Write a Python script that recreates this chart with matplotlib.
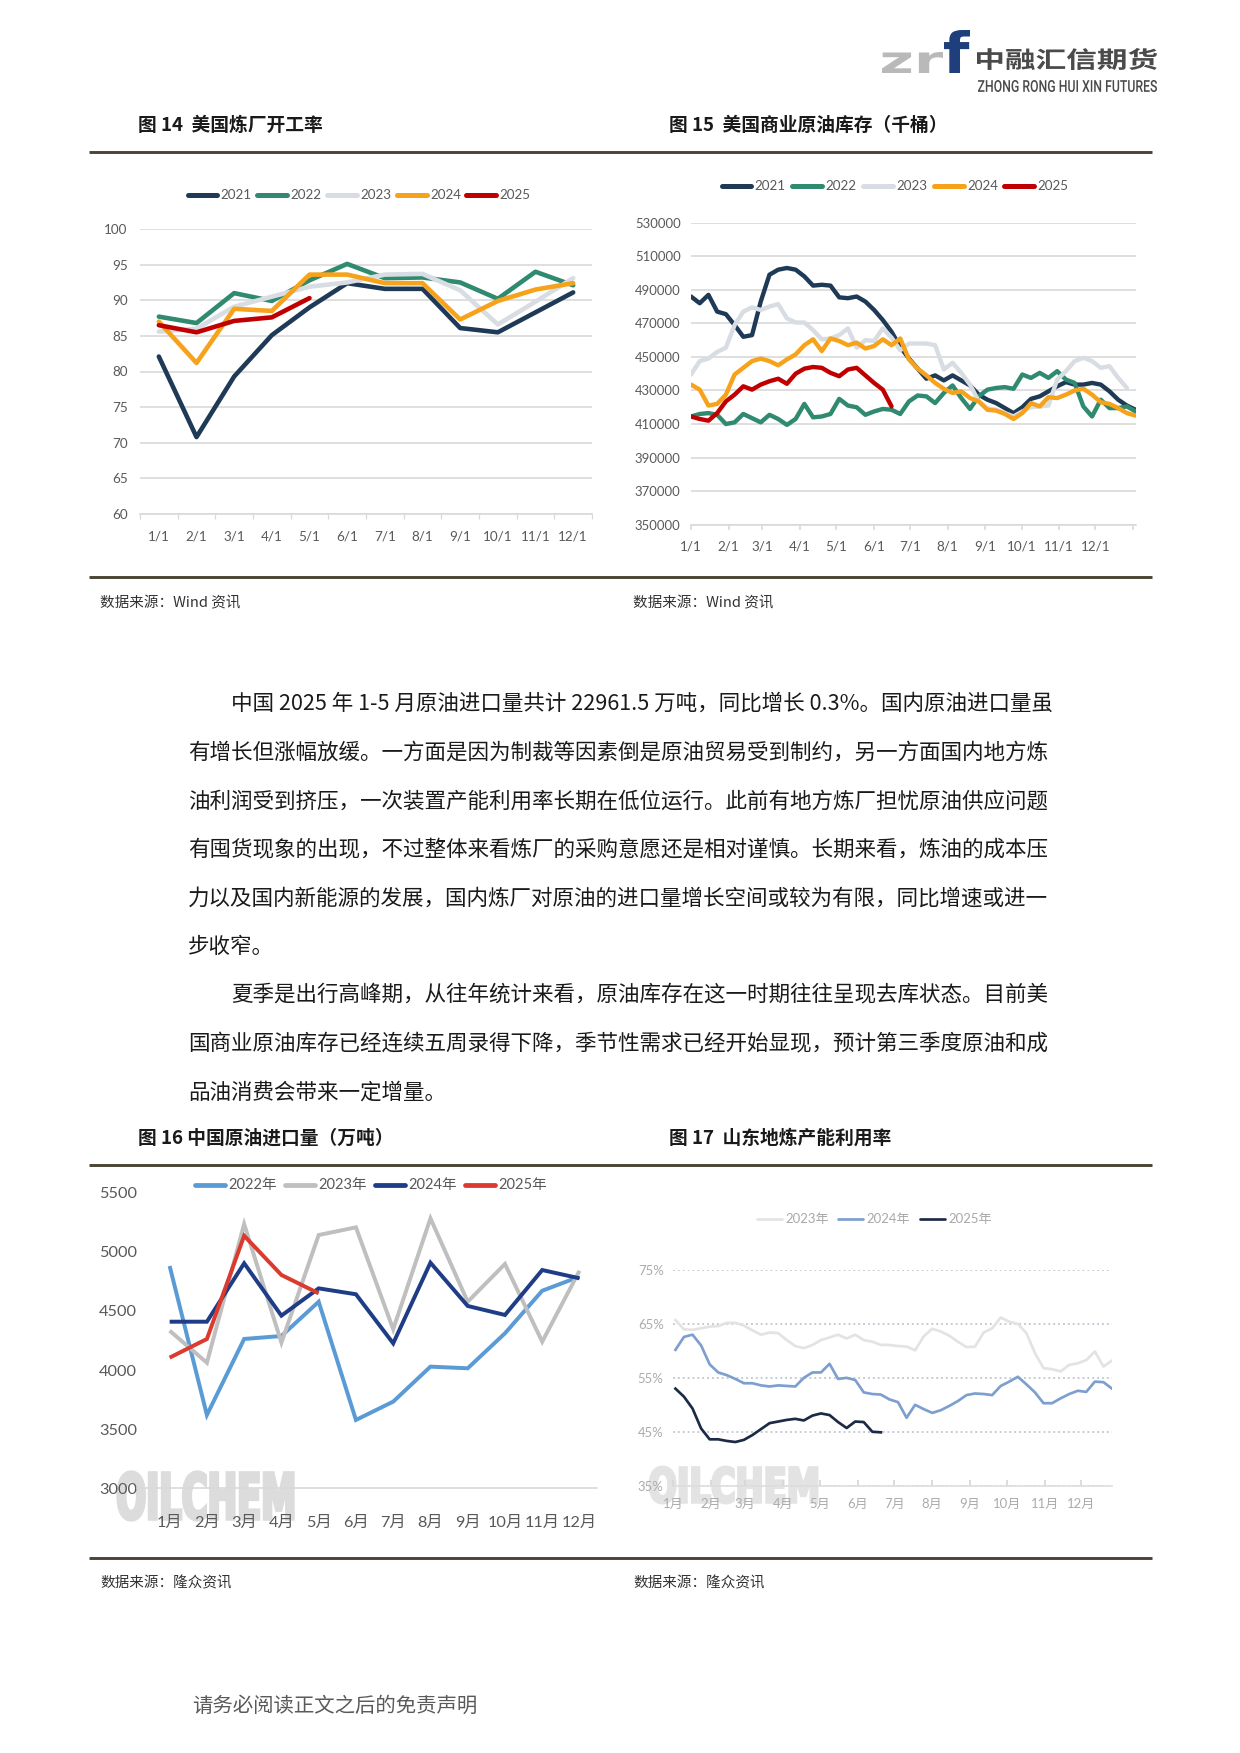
import numpy as np
import matplotlib
matplotlib.use('Agg')
import matplotlib.pyplot as plt
from matplotlib.textpath import TextPath
from matplotlib.patches import PathPatch
from matplotlib.font_manager import FontProperties
from matplotlib.transforms import Affine2D

W, H, DPI = 1240, 1753, 150
CJK = 'Noto Sans CJK SC'
NUM = 'Lato'
plt.rcParams['font.family'] = [NUM, CJK, 'DejaVu Sans']

# ---------------- data ----------------
# fig 14: US refinery utilisation (%), monthly
months14 = ['1/1', '2/1', '3/1', '4/1', '5/1', '6/1', '7/1', '8/1', '9/1', '10/1', '11/1', '12/1']
years14 = ['2021', '2022', '2023', '2024', '2025']
rate_2021 = [82.1, 70.8, 79.3, 85.1, 89.0, 92.4, 91.6, 91.6, 86.1, 85.5, 88.3, 91.1]
rate_2022 = [87.7, 86.8, 91.0, 89.9, 92.8, 95.1, 93.1, 93.2, 92.5, 90.2, 94.0, 92.1]
rate_2023 = [85.6, 86.0, 89.1, 90.5, 91.9, 92.5, 93.6, 93.7, 91.4, 86.6, 89.8, 93.1]
rate_2024 = [87.0, 81.2, 88.8, 88.5, 93.6, 93.6, 92.4, 92.4, 87.3, 89.9, 91.5, 92.4]
rate_2025 = [86.5, 85.5, 87.1, 87.6, 90.3]

# fig 15: US commercial crude stocks (thousand bbl), weekly
inv_2021 = [486000, 482000, 487000, 477000, 475500, 469000, 462000, 463000, 483000, 499000,
            502000, 503000, 502000, 498000, 492500, 493000, 492500, 485500, 485000, 486000,
            483000, 478000, 472000, 465000, 456000, 449000, 443000, 437000, 439000, 436000,
            439000, 436000, 433000, 427500, 424500, 422500, 419500, 416500, 420000, 425000,
            426500, 429500, 432500, 435000, 433500, 433500, 434500, 433500, 429500, 424500,
            421000, 418500]
inv_2022 = [414500, 416000, 416500, 415500, 410000, 411000, 416000, 413500, 411000, 415500,
            413000, 409500, 413000, 422000, 414000, 414500, 416000, 425000, 421000, 420000,
            415500, 417500, 419000, 418500, 416000, 423500, 427000, 426500, 422500, 428500,
            433000, 425500, 419000, 426500, 430500, 431500, 432000, 431000, 439500, 437500,
            440500, 437500, 441500, 436500, 434500, 420500, 414500, 424500, 419500, 419500,
            420500, 417500]
inv_2023 = [439500, 447500, 449000, 453000, 455500, 469000, 477000, 479500, 478000, 480000,
            481500, 473000, 470500, 470500, 466000, 460500, 461000, 463000, 467000, 455500,
            460000, 459500, 467000, 461500, 454000, 458000, 458000, 458000, 457000, 442500,
            446500, 440500, 433500, 423500, 419500, 418500, 416500, 414500, 417500, 420000,
            420500, 421000, 436500, 441500, 447500, 449500, 447500, 443500, 444500, 437500,
            431500]
inv_2024 = [433500, 430500, 421000, 422000, 427500, 439500, 443500, 447500, 449000, 447500,
            445000, 448500, 451500, 457000, 460500, 453500, 461000, 459500, 457000, 458500,
            455000, 456500, 460500, 457000, 461000, 448500, 443000, 439000, 434500, 431000,
            428500, 429500, 425500, 423500, 418500, 418000, 416000, 413000, 416500, 422500,
            420500, 426000, 425500, 427500, 430000, 431000, 427500, 423000, 422000, 419500,
            416500, 415000]
inv_2025 = [414500, 413000, 412000, 416500, 423500, 427500, 432500, 430500, 433500, 435500,
            437000, 434000, 440000, 443000, 444000, 443500, 440500, 438500, 442500, 443500,
            439000, 434500, 430500, 420500]

# fig 16: China crude imports (10k t), monthly
months_cn = ['1月', '2月', '3月', '4月', '5月', '6月', '7月', '8月', '9月', '10月', '11月', '12月']
imp_2022 = [4880, 3620, 4263, 4288, 4578, 3578, 3733, 4029, 4015, 4311, 4671, 4790]
imp_2023 = [4333, 4062, 5235, 4232, 5142, 5207, 4345, 5283, 4578, 4897, 4240, 4840]
imp_2024 = [4409, 4409, 4903, 4460, 4691, 4641, 4226, 4908, 4542, 4466, 4846, 4776]
imp_2025 = [4105, 4263, 5136, 4804, 4649]

# fig 17: Shandong independent refinery utilisation (%), weekly
util_2023 = [65.7, 64.0, 63.9, 64.2, 64.5, 64.6, 65.2, 65.2, 64.7, 63.8, 63.0, 63.4, 63.3,
             62.0, 60.9, 60.5, 61.1, 62.0, 62.5, 63.0, 62.3, 63.0, 62.0, 61.7, 61.1, 61.1,
             60.9, 60.8, 60.1, 62.7, 64.1, 63.6, 62.8, 61.7, 60.7, 60.8, 63.4, 64.2, 66.2,
             65.4, 65.0, 63.3, 59.6, 56.8, 56.6, 56.2, 57.4, 57.7, 58.3, 59.9, 57.1, 58.2]
util_2024 = [60.2, 62.6, 63.0, 61.0, 57.5, 56.0, 55.5, 54.8, 54.0, 54.0, 53.6, 53.4, 53.6,
             53.5, 53.4, 55.0, 56.0, 56.0, 57.6, 54.8, 55.0, 54.6, 52.3, 52.0, 51.9, 51.0,
             50.5, 47.6, 50.0, 49.2, 48.5, 49.0, 49.8, 50.7, 51.8, 52.1, 52.0, 51.8, 53.5,
             54.3, 55.2, 53.8, 52.3, 50.3, 50.3, 51.2, 52.0, 52.6, 52.4, 54.3, 54.2, 53.0]
util_2025 = [53.0, 51.5, 49.3, 45.6, 43.6, 43.6, 43.3, 43.1, 43.5, 44.4, 45.5, 46.6, 46.9,
             47.2, 47.4, 47.1, 48.0, 48.4, 48.1, 46.8, 45.7, 46.9, 46.8, 45.0, 44.9]

month_start_days = [0, 31, 59, 90, 120, 151, 181, 212, 243, 273, 304, 334]

body_lines = [
    '中国 2025 年 1-5 月原油进口量共计 22961.5 万吨，同比增长 0.3%。国内原油进口量虽',
    '有增长但涨幅放缓。一方面是因为制裁等因素倒是原油贸易受到制约，另一方面国内地方炼',
    '油利润受到挤压，一次装置产能利用率长期在低位运行。此前有地方炼厂担忧原油供应问题',
    '有囤货现象的出现，不过整体来看炼厂的采购意愿还是相对谨慎。长期来看，炼油的成本压',
    '力以及国内新能源的发展，国内炼厂对原油的进口量增长空间或较为有限，同比增速或进一',
    '步收窄。',
    '夏季是出行高峰期，从往年统计来看，原油库存在这一时期往往呈现去库状态。目前美',
    '国商业原油库存已经连续五周录得下降，季节性需求已经开始显现，预计第三季度原油和成',
    '品油消费会带来一定增量。',
]
indented = [True, False, False, False, False, False, True, False, False]

# ---------------- page ----------------
fig = plt.figure(figsize=(W / DPI, H / DPI), dpi=DPI)
fig.patch.set_facecolor('white')
bg = fig.add_axes([0, 0, 1, 1])
bg.set_xlim(0, W)
bg.set_ylim(H, 0)
bg.axis('off')


def box(x0, y0, x1, y1):
    return [x0 / W, 1 - y1 / H, (x1 - x0) / W, (y1 - y0) / H]


def fit_text(s, x0, y0, x1, y1, color, family, weight='normal', stroke=0.0):
    tp = TextPath((0, 0), s, size=100, prop=FontProperties(family=family, weight=weight))
    e = tp.get_extents()
    tr = Affine2D().translate(-e.x0, -e.y0).scale((x1 - x0) / e.width, -(y1 - y0) / e.height)
    tr = tr.translate(x0, y1)
    bg.add_patch(PathPatch(tr.transform_path(tp), fc=color,
                           ec=color if stroke else 'none', lw=stroke))


def legend_row(items, y, fs, lw, tcolor, gap=3):
    for x0, x1, color, label in items:
        bg.plot([x0, x1], [y, y], color=color, lw=lw, solid_capstyle='round')
        bg.text(x1 + gap, y, label, fontsize=fs, color=tcolor, va='center', ha='left')


SEP = '#4a4434'

# logo
fit_text('zr', 882, 52, 943, 73, '#b9b9b9', 'DejaVu Sans', 'bold')
fit_text('f', 944, 30, 970, 73, '#1f3e7c', 'DejaVu Sans', 'bold')
fit_text('中融汇信期货', 977, 48, 1157, 70, '#4a4a4a', CJK, 'bold')
fit_text('ZHONG RONG HUI XIN FUTURES', 978, 80, 1157, 92, '#4a4a4a', 'Roboto', 'medium')

# titles, separators, sources
for tx, ty, t in [(138, 125, '图 14  美国炼厂开工率'), (669, 125, '图 15  美国商业原油库存（千桶）'),
                  (138, 1138, '图 16 中国原油进口量（万吨）'), (669, 1138, '图 17  山东地炼产能利用率')]:
    bg.text(tx, ty, t, fontsize=9, fontweight='bold', color='#1a1a1a', va='center', ha='left',
            family=[CJK])
for yy in [151.5, 577, 1165, 1557.5]:
    bg.plot([89, 1152], [yy, yy], color=SEP, lw=1.4, solid_capstyle='butt')
for sx, sy, t in [(100, 603, '数据来源：Wind 资讯'), (633, 603, '数据来源：Wind 资讯'),
                  (100, 1583, '数据来源：隆众资讯'), (633, 1583, '数据来源：隆众资讯')]:
    bg.text(sx, sy, t, fontsize=7, color='#333333', va='center', ha='left', family=[CJK])

# body text
for i, line in enumerate(body_lines):
    bg.text(231 if indented[i] else 188, 704 + i * 48.6, line, fontsize=10.35, color='#1a1a1a',
            va='center', ha='left', family=[CJK])

bg.text(192, 1706, '请务必阅读正文之后的免责声明', fontsize=9.8, color='#5a5a5a', va='center',
        ha='left', family=[CJK])

# watermarks
fit_text('OILCHEM', 118, 1472, 293, 1520, '#dcdcdc', 'DejaVu Sans', 'bold', stroke=1.6)
fit_text('OILCHEM', 650, 1467, 817, 1503, '#e3e3e3', 'DejaVu Sans', 'bold', stroke=1.4)

GRID = '#d9d9d9'
TXT = '#595959'

# ---------------- fig 14 ----------------
c14 = ['#1f3a56', '#2f8a70', '#d8dde3', '#f7a21b', '#c00000']
legend_row([(188, 217, c14[0], years14[0]), (257, 287, c14[1], years14[1]),
            (327, 357, c14[2], years14[2]), (397, 427, c14[3], years14[3]),
            (466, 496, c14[4], years14[4])], 195, 6.4, 2.4, TXT)
ax = fig.add_axes(box(140, 229, 592, 514))
ax.set_facecolor('none')
xc = np.arange(12)
for vals, col in zip([rate_2021, rate_2022, rate_2023, rate_2024, rate_2025], c14):
    ax.plot(xc[:len(vals)], vals, color=col, lw=2.2, solid_capstyle='round', solid_joinstyle='round')
ax.set_xlim(-0.5, 11.5)
ax.set_ylim(60, 100)
ax.set_yticks(range(60, 101, 5))
ax.set_xticks(xc)
ax.set_xticklabels(months14)
ax.set_xticks(np.arange(-0.5, 12, 1), minor=True)
ax.grid(axis='y', color=GRID, lw=0.8)
ax.set_axisbelow(True)
for s in ['top', 'right', 'left']:
    ax.spines[s].set_visible(False)
ax.spines['bottom'].set_color(GRID)
ax.tick_params(axis='x', which='major', length=0, pad=7.7, labelsize=6.5, labelcolor=TXT)
ax.tick_params(axis='x', which='minor', length=2.5, color=GRID)
ax.tick_params(axis='y', length=0, pad=6, labelsize=6.5, labelcolor=TXT)

# ---------------- fig 15 ----------------
legend_row([(722, 751, c14[0], years14[0]), (792, 822, c14[1], years14[1]),
            (863, 893, c14[2], years14[2]), (934, 964, c14[3], years14[3]),
            (1004, 1034, c14[4], years14[4])], 186, 6.4, 2.4, TXT)
ax = fig.add_axes(box(691, 222.7, 1136, 524.7))
ax.set_facecolor('none')
wk = np.arange(52) * 7.2
for vals, col in zip([inv_2021, inv_2022, inv_2023, inv_2024, inv_2025], c14):
    ax.plot(wk[:len(vals)], vals, color=col, lw=2.1, solid_capstyle='round', solid_joinstyle='round')
ax.set_xlim(0, 367.5)
ax.set_ylim(350000, 530000)
ax.set_yticks(range(350000, 530001, 20000))
ax.set_yticklabels([str(v) for v in range(350000, 530001, 20000)])
ax.set_xticks(month_start_days + [365])
ax.set_xticklabels(months14 + [''])
ax.grid(axis='y', color=GRID, lw=0.8)
ax.set_axisbelow(True)
for s in ['top', 'right', 'left']:
    ax.spines[s].set_visible(False)
ax.spines['bottom'].set_color(GRID)
ax.tick_params(axis='x', length=2.5, color=GRID, pad=5, labelsize=6.5, labelcolor=TXT)
ax.tick_params(axis='y', length=0, pad=5, labelsize=6.3, labelcolor=TXT)

# ---------------- fig 16 ----------------
c16 = ['#5b9bd5', '#bfbfbf', '#1e3d86', '#db3a2e']
years16 = ['2022年', '2023年', '2024年', '2025年']
legend_row([(195, 225, c16[0], years16[0]), (285, 315, c16[1], years16[1]),
            (375, 405, c16[2], years16[2]), (465, 495, c16[3], years16[3])],
           1185, 7, 2.3, TXT)
ax = fig.add_axes(box(137, 1192.7, 597, 1488.3))
ax.set_facecolor('none')
for vals, col in zip([imp_2022, imp_2023, imp_2024, imp_2025], c16):
    ax.plot(xc[:len(vals)], vals, color=col, lw=1.9, solid_capstyle='butt', solid_joinstyle='miter')
ax.set_xlim(-0.876, 11.47)
ax.set_ylim(3000, 5500)
ax.set_yticks(range(3000, 5501, 500))
ax.set_xticks(xc)
ax.set_xticklabels(months_cn)
for s in ['top', 'right', 'left']:
    ax.spines[s].set_visible(False)
ax.spines['bottom'].set_color(GRID)
ax.tick_params(axis='x', length=0, pad=13.2, labelsize=7.8, labelcolor=TXT)
ax.tick_params(axis='y', length=0, pad=0, labelsize=7.8, labelcolor=TXT)

# ---------------- fig 17 ----------------
c17 = ['#e3e3e3', '#7d9fd0', '#1c2b45']
legend_row([(757, 782, c17[0], years16[1]), (838, 863, c17[1], years16[2]),
            (920, 945, c17[2], years16[3])], 1219, 6.3, 1.3, '#a8a8a8')
ax = fig.add_axes(box(673, 1270, 1112, 1485.7))
ax.set_facecolor('none')
dw = 2 + np.arange(52) * 7
for vals, col in zip([util_2023, util_2024, util_2025], c17):
    ax.plot(dw[:len(vals)], vals, color=col, lw=1.3, solid_joinstyle='round')
ax.set_xlim(0, 359)
ax.set_ylim(35, 75)
ax.set_yticks([35, 45, 55, 65, 75])
ax.set_yticklabels(['35%', '45%', '55%', '65%', '75%'])
ax.set_xticks(month_start_days)
ax.set_xticklabels(months_cn)
ax.grid(axis='y', color='#c3c9d4', lw=0.9, linestyle=(0, (1, 1.6)))
ax.set_axisbelow(True)
for s in ['top', 'right', 'left']:
    ax.spines[s].set_visible(False)
ax.spines['bottom'].set_color('#dedede')
ax.tick_params(axis='x', direction='in', length=3, color='#d6d6d6', pad=6, labelsize=6.3,
               labelcolor='#ababab')
ax.tick_params(axis='y', length=0, pad=4.5, labelsize=6.3, labelcolor='#ababab')

fig.savefig('out.png', dpi=DPI, facecolor='white')
